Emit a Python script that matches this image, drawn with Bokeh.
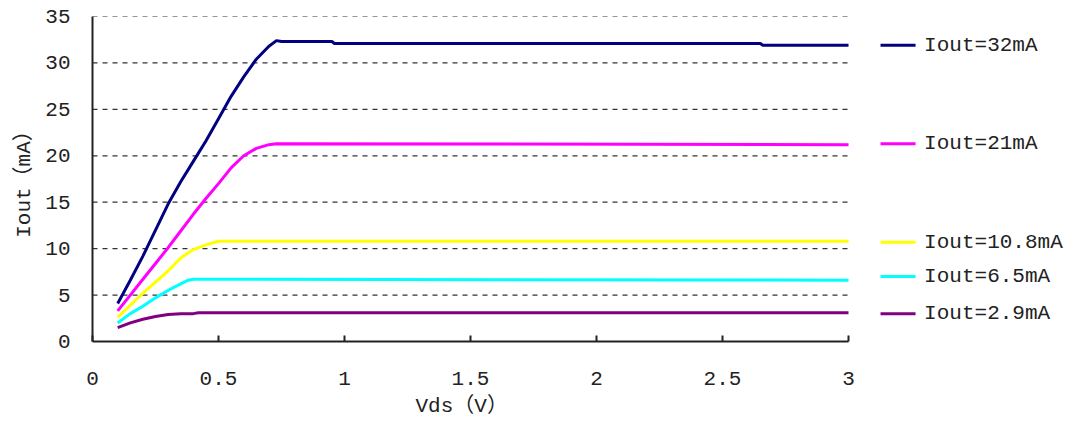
from bokeh.plotting import figure
from bokeh.models import Range1d, FixedTicker, Title
from bokeh.core.properties import value
from bokeh.embed import file_html
from bokeh.resources import INLINE

# ---------------- data ----------------
x_32 = [0.10, 0.15, 0.20, 0.25, 0.30, 0.35, 0.40, 0.45, 0.50, 0.55, 0.60, 0.65, 0.70, 0.73, 0.75, 0.95, 0.96, 2.65, 2.66, 3.00]
y_32 = [4.1, 6.6, 9.2, 12.0, 14.8, 17.2, 19.4, 21.6, 24.0, 26.4, 28.5, 30.4, 31.8, 32.4, 32.3, 32.3, 32.1, 32.1, 31.9, 31.9]

x_21 = [0.10, 0.15, 0.20, 0.25, 0.30, 0.35, 0.40, 0.45, 0.50, 0.55, 0.60, 0.65, 0.70, 0.73, 3.00]
y_21 = [3.3, 5.0, 6.7, 8.4, 10.1, 11.9, 13.7, 15.4, 17.0, 18.7, 20.0, 20.8, 21.2, 21.3, 21.2]

x_108 = [0.10, 0.15, 0.20, 0.25, 0.30, 0.35, 0.40, 0.45, 0.50, 3.00]
y_108 = [2.6, 3.9, 5.2, 6.4, 7.6, 9.0, 9.9, 10.4, 10.8, 10.8]

x_65 = [0.10, 0.15, 0.20, 0.25, 0.30, 0.35, 0.38, 0.40, 3.00]
y_65 = [2.0, 3.0, 3.8, 4.7, 5.5, 6.2, 6.6, 6.7, 6.6]

x_29 = [0.10, 0.15, 0.20, 0.25, 0.30, 0.35, 0.40, 0.42, 3.00]
y_29 = [1.5, 2.0, 2.4, 2.7, 2.9, 3.0, 3.0, 3.1, 3.1]

series_labels = ["Iout=32mA", "Iout=21mA", "Iout=10.8mA", "Iout=6.5mA", "Iout=2.9mA"]
x_ticks = [0, 0.5, 1, 1.5, 2, 2.5, 3]
y_ticks = [0, 5, 10, 15, 20, 25, 30, 35]
x_title = "Vds（V）"
y_title = "Iout（mA）"

# ---------------- layout / style ----------------
colors = ["#000080", "#FF00FF", "#FFFF00", "#00FFFF", "#800080"]
legend_levels = [31.9, 21.3, 10.7, 7.0, 3.0]
FONT = "Liberation Mono, Noto Sans CJK SC"
FS = "21px"
INK = "#222222"
X_DATA_MAX = 3.0
X_VIEW_MAX = 3.865
LEG_X0, LEG_X1, LEG_TX = 3.127, 3.266, 3.30

p = figure(width=1066, height=426, output_backend="svg", toolbar_location=None,
           x_range=Range1d(0, X_VIEW_MAX), y_range=Range1d(0, 35),
           min_border_left=92, min_border_right=0, min_border_top=16, min_border_bottom=85)
p.outline_line_color = None
p.xgrid.visible = False
p.ygrid.visible = False

# gridlines (dashed, only over the data area)
gy = y_ticks[1:]
p.segment(x0=[0] * len(gy), x1=[X_DATA_MAX] * len(gy), y0=gy, y1=gy,
          line_color="#333333", line_width=1.2, line_dash="5 5")

xs = [x_32, x_21, x_108, x_65, x_29]
ys = [y_32, y_21, y_108, y_65, y_29]
for xv, yv, c in zip(xs, ys, colors):
    p.line(xv, yv, line_color=c, line_width=3)

# legend drawn next to each series level
n = len(series_labels)
p.segment(x0=[LEG_X0] * n, x1=[LEG_X1] * n, y0=legend_levels, y1=legend_levels,
          line_color=colors, line_width=3)
p.text(x=[LEG_TX] * n, y=legend_levels, text=series_labels,
       text_font=value(FONT), text_font_size=FS, text_baseline="middle",
       text_align="left", text_color=INK)

# axes
xa = p.xaxis[0]
xa.bounds = (0, X_DATA_MAX)
xa.ticker = FixedTicker(ticks=x_ticks)
xa.minor_tick_line_color = None
xa.major_tick_in = 6
xa.major_tick_out = 0
xa.major_label_standoff = 30
xa.axis_line_width = 2
xa.axis_line_color = INK
xa.major_tick_line_color = INK
xa.major_tick_line_width = 2
xa.major_label_text_font = FONT
xa.major_label_text_font_size = FS
xa.major_label_text_color = INK

p.add_layout(Title(text=x_title, align="left", offset=323, standoff=10,
                   text_font=FONT, text_font_size=FS, text_font_style="normal",
                   text_color=INK), "below")

ya = p.yaxis[0]
ya.ticker = FixedTicker(ticks=y_ticks)
ya.minor_tick_line_color = None
ya.major_tick_in = 0
ya.major_tick_out = 0
ya.major_label_standoff = 22
ya.axis_line_width = 2
ya.axis_line_color = INK
ya.major_label_text_font = FONT
ya.major_label_text_font_size = FS
ya.major_label_text_color = INK
ya.axis_label = y_title
ya.axis_label_text_font = FONT
ya.axis_label_text_font_size = FS
ya.axis_label_text_font_style = "normal"
ya.axis_label_standoff = 6
ya.axis_label_text_color = INK

open("out.html", "w").write(file_html(p, INLINE))
